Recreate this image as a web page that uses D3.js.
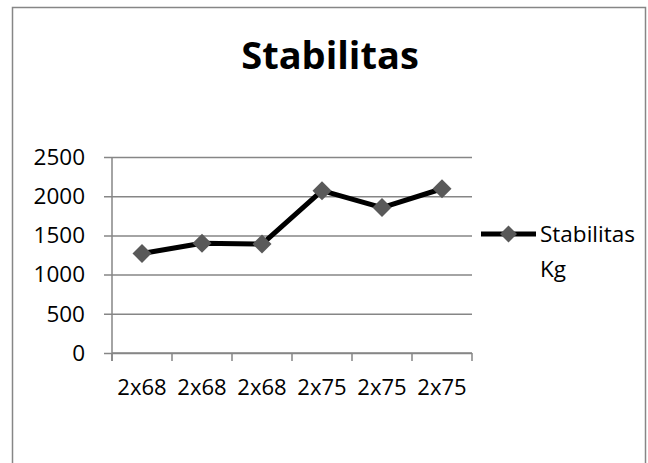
<!DOCTYPE html>
<html>
<head>
<meta charset="utf-8">
<script src="https://cdn.jsdelivr.net/npm/d3@7"></script>
<style>
  html, body { margin: 0; padding: 0; background: #fff; }
  svg { display: block; }
  text { font-family: "Open Sans", "Noto Sans", sans-serif; fill: #000; }
</style>
</head>
<body>
<svg id="chart" width="648" height="463"></svg>
<script>
// Chart data
const categories = ["2x68", "2x68", "2x68", "2x75", "2x75", "2x75"];
const stabilitas = [1270, 1400, 1390, 2070, 1855, 2095];
const yTicks = [0, 500, 1000, 1500, 2000, 2500];
const chartTitle = "Stabilitas";
const seriesName = ["Stabilitas", "Kg"];

const svg = d3.select("#chart");

// Outer frame
svg.append("rect")
  .attr("x", 12.5).attr("y", 7.5)
  .attr("width", 633).attr("height", 470)
  .attr("fill", "#fff")
  .attr("stroke", "#868686").attr("stroke-width", 1.5);

// Plot area
const plot = { left: 112, right: 472, top: 157, bottom: 353 };

const x = d3.scaleBand()
  .domain(d3.range(categories.length))
  .range([plot.left, plot.right])
  .paddingInner(0).paddingOuter(0);

const y = d3.scaleLinear()
  .domain([0, 2500])
  .range([plot.bottom, plot.top]);

// Title
svg.append("text")
  .attr("x", 330).attr("y", 69)
  .attr("text-anchor", "middle")
  .attr("font-size", 38)
  .attr("font-weight", "bold")
  .text(chartTitle);

// Horizontal gridlines + y axis labels
const yAxis = d3.axisLeft(y)
  .tickValues(yTicks)
  .tickSize(-(plot.right - plot.left))
  .tickPadding(27)
  .tickFormat(d3.format("d"));

const gy = svg.append("g")
  .attr("transform", `translate(${plot.left},0)`)
  .call(yAxis);
gy.select(".domain").remove();
gy.selectAll(".tick line")
  .attr("x1", -8)
  .attr("stroke", "#868686").attr("stroke-width", 1.5);
gy.selectAll(".tick text")
  .attr("font-size", 22.5)
  .attr("font-family", "Open Sans")
  .attr("fill", "#000");

// Vertical axis line
svg.append("line")
  .attr("x1", plot.left).attr("x2", plot.left)
  .attr("y1", plot.top).attr("y2", plot.bottom + 8)
  .attr("stroke", "#868686").attr("stroke-width", 1.5);

// X axis with category tick marks at band boundaries
const gx = svg.append("g")
  .attr("transform", `translate(0,${plot.bottom})`);
gx.append("line")
  .attr("x1", plot.left).attr("x2", plot.right)
  .attr("stroke", "#868686").attr("stroke-width", 1.5);
const boundaries = d3.range(categories.length + 1).map(i =>
  i < categories.length ? x(i) : x(categories.length - 1) + x.bandwidth());
gx.selectAll("line.tk").data(boundaries).join("line")
  .attr("class", "tk")
  .attr("x1", d => d).attr("x2", d => d)
  .attr("y1", 0).attr("y2", 8)
  .attr("stroke", "#868686").attr("stroke-width", 1.5);
gx.selectAll("text").data(categories).join("text")
  .attr("x", (d, i) => x(i) + x.bandwidth() / 2)
  .attr("y", 42)
  .attr("text-anchor", "middle")
  .attr("font-size", 22)
  .text(d => d);

// Series line
const line = d3.line()
  .x((d, i) => x(i) + x.bandwidth() / 2)
  .y(d => y(d));

svg.append("path")
  .datum(stabilitas)
  .attr("d", line)
  .attr("fill", "none")
  .attr("stroke", "#000")
  .attr("stroke-width", 5)
  .attr("stroke-linejoin", "round");

// Diamond markers
const diamond = d3.symbol().type(d3.symbolDiamond2).size(230);
svg.selectAll("path.marker").data(stabilitas).join("path")
  .attr("class", "marker")
  .attr("d", diamond)
  .attr("transform", (d, i) => `translate(${x(i) + x.bandwidth() / 2},${y(d)})`)
  .attr("fill", "#595959");

// Legend
const lg = svg.append("g").attr("transform", "translate(481,234)");
lg.append("line")
  .attr("x1", 0).attr("x2", 55)
  .attr("stroke", "#000").attr("stroke-width", 5);
lg.append("path")
  .attr("d", d3.symbol().type(d3.symbolDiamond2).size(185))
  .attr("transform", "translate(27.5,0)")
  .attr("fill", "#595959");
lg.selectAll("text").data(seriesName).join("text")
  .attr("x", 59)
  .attr("y", (d, i) => 8 + i * 35)
  .attr("font-size", 22.5)
  .text(d => d);
</script>
</body>
</html>
